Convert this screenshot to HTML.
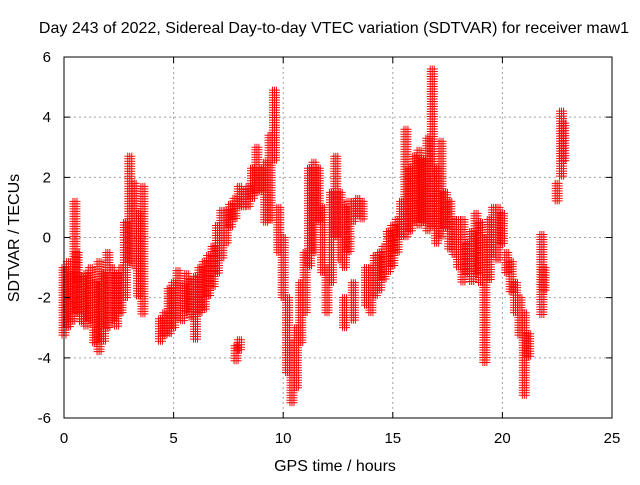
<!DOCTYPE html>
<html><head><meta charset="utf-8"><style>
body{margin:0;background:#fff;}
svg text{font-family:"Liberation Sans",sans-serif;font-size:15px;fill:#000;}
svg text.big{font-size:16px;}
</style></head><body>
<svg id="chart" width="640" height="480">
<rect width="640" height="480" fill="#fff"/>
<g id="grid"></g>
<g id="pts"></g>
<rect x="64" y="57" width="548" height="361" fill="none" stroke="#000" stroke-width="1"/>
<g id="ticks"></g>
<text class="big" x="334" y="33" text-anchor="middle">Day 243 of 2022, Sidereal Day-to-day VTEC variation (SDTVAR) for receiver maw1</text>
<text class="big" x="335" y="471" text-anchor="middle">GPS time / hours</text>
<text class="big" transform="translate(19,238) rotate(-90)" text-anchor="middle">SDTVAR / TECUs</text>
</svg>
<script>
const xTicks=[0,5,10,15,20,25];
const yTicks=[-6,-4,-2,0,2,4,6];
const times=[0,0.2,0.4,0.5,0.6,0.8,1.0,1.2,1.4,1.6,1.8,2.0,2.2,2.4,2.6,2.8,3.0,3.2,3.4,3.6,4.4,4.6,4.8,5.0,5.2,5.4,5.6,5.8,6.0,6.2,6.4,6.6,6.8,7.0,7.2,7.4,7.6,7.8,8.0,7.85,8.0,8.2,8.4,8.6,8.8,9.0,9.2,9.4,9.6,9.8,10.0,10.2,10.4,10.6,10.8,11.0,11.2,11.4,11.6,11.8,12.0,12.2,12.4,12.6,12.8,13.0,13.2,13.4,13.6,12.8,13.2,13.8,14.0,14.2,14.4,14.6,14.8,15.0,15.2,15.4,15.6,15.8,16.0,16.2,16.4,16.6,16.8,17.0,17.2,17.4,17.6,17.8,18.0,18.2,18.4,18.6,18.8,19.0,19.2,19.4,19.6,19.8,20.0,20.2,20.4,20.6,20.8,21.0,21.2,21.8,21.9,22.5,22.7,22.8];
const lows=[-3.3,-3.0,-2.8,-1.5,-2.5,-2.8,-3.0,-2.8,-3.5,-3.8,-3.5,-3.0,-2.8,-3.0,-2.5,-2.0,-0.8,-1.0,-2.0,-2.6,-3.5,-3.3,-3.2,-3.0,-2.7,-2.8,-2.5,-2.7,-3.4,-2.5,-2.4,-2.0,-1.7,-1.2,-0.7,-0.2,0.3,0.6,1.0,-4.1,-3.8,1.0,1.0,1.3,1.5,1.5,0.5,0.5,2.5,-0.5,-2.0,-4.5,-5.5,-5.0,-3.5,-2.5,-1.0,-0.5,0.5,-1.2,-2.5,-1.5,0.0,-0.8,-1.0,-0.5,0.5,0.7,0.6,-3.0,-2.8,-2.3,-2.5,-2.0,-1.8,-1.4,-1.2,-1.0,-0.5,0.0,0.0,0.2,0.5,0.4,0.5,0.2,0.3,-0.2,0.0,0.3,-0.4,-0.6,-1.0,-1.5,-1.2,-1.5,-1.2,-1.5,-4.2,-1.4,-0.6,-0.8,-0.2,-1.2,-1.8,-2.5,-3.3,-5.3,-4.0,-2.6,-1.8,1.2,2.0,2.5];
const highs=[-1.0,-0.8,-1.2,1.2,-0.5,-1.3,-1.2,-1.0,-1.5,-0.8,-1.2,-0.5,-1.0,-1.2,-1.0,0.5,2.7,1.8,0.8,1.7,-2.7,-2.5,-1.7,-1.5,-1.1,-1.6,-1.2,-1.4,-1.3,-1.0,-0.8,-0.6,-0.3,0.4,0.9,0.9,1.1,1.3,1.7,-3.6,-3.4,1.6,1.7,2.3,3.0,2.3,2.5,3.4,4.9,1.0,0.0,-2.0,-3.5,-3.0,-1.5,-0.5,2.3,2.5,2.3,1.0,-1.0,1.5,2.7,1.5,1.0,1.2,1.2,1.3,1.2,-2.0,-1.5,-1.0,-1.0,-0.6,-0.5,-0.3,0.2,0.4,0.6,1.2,3.6,2.3,2.7,2.9,2.6,3.3,5.6,2.3,3.2,1.5,1.2,0.6,0.6,0.6,-0.2,0.2,0.8,0.5,0.0,0.6,1.0,1.0,0.8,-0.5,-0.8,-1.5,-2.0,-2.5,-3.2,0.1,-1.0,1.8,4.2,3.8];
const X=t=>64+t*548/25, Y=v=>237.5-v*361/12;
const NS='http://www.w3.org/2000/svg';
const grid=document.getElementById('grid'),ticks=document.getElementById('ticks'),pts=document.getElementById('pts');
xTicks.forEach(t=>{
  const x=X(t);
  if(t>0&&t<25){const l=document.createElementNS(NS,'line');l.setAttribute('x1',x);l.setAttribute('x2',x);l.setAttribute('y1',57);l.setAttribute('y2',418);l.setAttribute('stroke','#a0a0a0');l.setAttribute('stroke-dasharray','2,3');
  
  grid.appendChild(l);}
  const k=document.createElementNS(NS,'path');k.setAttribute('d',`M${x},418v-6M${x},57v6`);k.setAttribute('stroke','#000');
  
  ticks.appendChild(k);
  const tx=document.createElementNS(NS,'text');tx.setAttribute('x',x);tx.setAttribute('y',443);tx.setAttribute('text-anchor','middle');tx.textContent=t;
  
  ticks.appendChild(tx);
});
yTicks.forEach(v=>{
  const y=Y(v);
  if(v>-6&&v<6){const l=document.createElementNS(NS,'line');l.setAttribute('x1',64);l.setAttribute('x2',612);l.setAttribute('y1',y);l.setAttribute('y2',y);l.setAttribute('stroke','#a0a0a0');l.setAttribute('stroke-dasharray','2,3');
  
  grid.appendChild(l);}
  const k=document.createElementNS(NS,'path');k.setAttribute('d',`M64,${y}h6M612,${y}h-6`);k.setAttribute('stroke','#000');
  
  ticks.appendChild(k);
  const tx=document.createElementNS(NS,'text');tx.setAttribute('x',51);tx.setAttribute('y',y+5);tx.setAttribute('text-anchor','end');tx.textContent=v;
  
  ticks.appendChild(tx);
});
let d='';
times.forEach((t,i)=>{
  const x=X(t),y1=Y(highs[i]),y2=Y(lows[i]);
  for(let dx=-2;dx<=2;dx+=2){
    for(let y=y1;y<=y2+0.1;y+=2.5){d+=`M${x+dx-3.5},${y}h7M${x+dx},${y-3.5}v7`;}
  }
});
const p=document.createElementNS(NS,'path');p.setAttribute('d',d);p.setAttribute('stroke','#ff0000');p.setAttribute('stroke-width','1');p.setAttribute('fill','none');


pts.appendChild(p);
</script>
</body></html>
